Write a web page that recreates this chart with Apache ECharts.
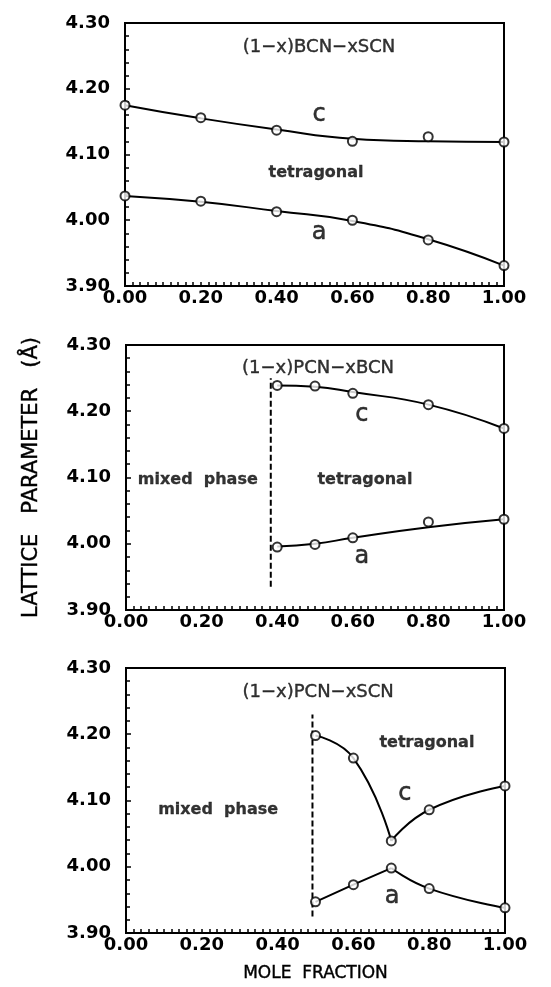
<!DOCTYPE html>
<html>
<head>
<meta charset="utf-8">
<script src="https://cdn.jsdelivr.net/npm/echarts@6/dist/echarts.min.js"></script>
<style>
  html, body { margin: 0; padding: 0; background: #fff; }
  #chartBox { width: 551px; height: 987px; }
</style>
</head>
<body>
<div id="chartBox"></div>
<script>
// (1-x)BCN-xSCN
const xBS = [0, 0.2, 0.4, 0.6, 0.8, 1.0]
const bsC = [4.175, 4.156, 4.137, 4.120, 4.127, 4.119]
const bsA = [4.037, 4.029, 4.013, 4.000, 3.970, 3.931]
const bsCFit = [4.175, 4.155, 4.138, 4.124, 4.120, 4.119]
const bsAFit = [4.037, 4.028, 4.014, 3.999, 3.971, 3.931]

// (1-x)PCN-xBCN
const xPB = [0.4, 0.5, 0.6, 0.8, 1.0]
const pbC = [4.239, 4.238, 4.227, 4.210, 4.174]
const pbA = [3.995, 3.999, 4.009, 4.033, 4.037]
const pbCFit = [4.239, 4.237, 4.229, 4.210, 4.174]
const pbAFit = [3.996, 4.000, 4.009, 4.025, 4.037]
const pbBoundary = [[0.383, 3.935], [0.383, 4.250]]

// (1-x)PCN-xSCN
const xPS = [0.5, 0.6, 0.7, 0.8, 1.0]
const psC = [4.198, 4.164, 4.039, 4.086, 4.122]
const psA = [3.947, 3.973, 3.998, 3.967, 3.938]
const psBoundary = [[0.492, 3.925], [0.492, 4.230]]

const xTicks = [0, 0.2, 0.4, 0.6, 0.8, 1.0]
const yTicks = [3.9, 4.0, 4.1, 4.2, 4.3]

const FONT = 'DejaVu Sans'
const pair = (xs, ys) => xs.map((x, i) => [x, ys[i]])

const grids = [
  { left: 125, top: 23, width: 379, height: 263 },
  { left: 126, top: 345, width: 378, height: 265 },
  { left: 126, top: 668, width: 379, height: 265 }
]

function makeX(i) {
  return {
    type: 'value', gridIndex: i,
    min: xTicks[0], max: xTicks[xTicks.length - 1], interval: 0.2,
    axisLine: { show: true, lineStyle: { color: '#000', width: 2 } },
    axisTick: { inside: true, length: 4, lineStyle: { color: '#000', width: 1.5 } },
    minorTick: { show: true, splitNumber: 10, length: 4, lineStyle: { color: '#000', width: 1.5 } },
    splitLine: { show: false },
    axisLabel: {
      color: '#000', fontFamily: FONT, fontWeight: 'bold', fontSize: 18, margin: 3,
      formatter: v => v.toFixed(2)
    },
    name: i === 2 ? 'MOLE  FRACTION' : '',
    nameLocation: 'middle', nameGap: 32,
    nameTextStyle: { color: '#000', fontFamily: FONT, fontSize: 17, textBorderColor: '#000', textBorderWidth: 0.4 }
  }
}

function makeY(i) {
  return {
    type: 'value', gridIndex: i,
    min: yTicks[0], max: yTicks[yTicks.length - 1], interval: 0.1,
    axisLine: { show: true, lineStyle: { color: '#000', width: 2 } },
    axisTick: { inside: true, length: 5, lineStyle: { color: '#000', width: 1.5 } },
    minorTick: { show: true, splitNumber: 5, length: 4, lineStyle: { color: '#000', width: 1.5 } },
    splitLine: { show: false },
    axisLabel: {
      color: '#000', fontFamily: FONT, fontWeight: 'bold', fontSize: 18, margin: 15,
      formatter: v => v.toFixed(2)
    },
    name: i === 1 ? 'LATTICE   PARAMETER   (Å)' : '',
    nameLocation: 'middle', nameGap: 84,
    nameTextStyle: { color: '#000', fontFamily: FONT, fontSize: 21, textBorderColor: '#000', textBorderWidth: 0.4 }
  }
}

function fit(i, data, smooth) {
  return {
    type: 'line', xAxisIndex: i, yAxisIndex: i, data: data,
    smooth: smooth, showSymbol: false, silent: true, z: 2,
    lineStyle: { color: '#000', width: 2 }
  }
}

function marks(i, data) {
  return {
    type: 'scatter', xAxisIndex: i, yAxisIndex: i, data: data,
    symbol: 'circle', symbolSize: 9, silent: true, z: 3,
    itemStyle: { color: '#fff', borderColor: '#000', borderWidth: 2 }
  }
}

function boundary(i, data) {
  return {
    type: 'line', xAxisIndex: i, yAxisIndex: i, data: data,
    showSymbol: false, silent: true, z: 2,
    lineStyle: { color: '#000', width: 2, type: [6, 3] }
  }
}

const titleStyle = { fontFamily: FONT, fontSize: 18, color: '#000', textBorderColor: '#000', textBorderWidth: 0.4 }
const regionStyle = { fontFamily: FONT, fontSize: 16, fontWeight: 'bold', color: '#000', textBorderColor: '#000', textBorderWidth: 0.3 }
const letterStyle = { fontFamily: FONT, fontSize: 24, color: '#000', textBorderColor: '#000', textBorderWidth: 0.5 }

function notes(i, items) {
  return {
    type: 'scatter', xAxisIndex: i, yAxisIndex: i, silent: true, z: 4,
    symbolSize: 1, itemStyle: { color: 'transparent' },
    data: items.map(n => ({
      value: [n[0], n[1]],
      label: Object.assign({ show: true, position: 'inside', formatter: n[2] }, n[3])
    }))
  }
}

const chart = echarts.init(document.getElementById('chartBox'), null, { renderer: 'canvas' })
chart.setOption({
  animation: false,
  backgroundColor: '#fff',
  grid: grids.map(g => Object.assign({ show: true, borderColor: '#000', borderWidth: 2, backgroundColor: 'transparent' }, g)),
  xAxis: [0, 1, 2].map(makeX),
  yAxis: [0, 1, 2].map(makeY),
  series: [
    fit(0, pair(xBS, bsCFit), true),
    fit(0, pair(xBS, bsAFit), true),
    marks(0, pair(xBS, bsC)),
    marks(0, pair(xBS, bsA)),
    notes(0, [
      [0.512, 4.263, '(1−x)BCN−xSCN', titleStyle],
      [0.512, 4.160, 'c', letterStyle],
      [0.504, 4.072, 'tetragonal', regionStyle],
      [0.512, 3.981, 'a', letterStyle]
    ]),

    fit(1, pair(xPB, pbCFit), true),
    fit(1, pair(xPB, pbAFit), true),
    marks(1, pair(xPB, pbC)),
    marks(1, pair(xPB, pbA)),
    boundary(1, pbBoundary),
    notes(1, [
      [0.508, 4.265, '(1−x)PCN−xBCN', titleStyle],
      [0.624, 4.194, 'c', letterStyle],
      [0.624, 3.980, 'a', letterStyle],
      [0.190, 4.096, 'mixed  phase', regionStyle],
      [0.632, 4.096, 'tetragonal', regionStyle]
    ]),

    fit(2, pair(xPS.slice(0, 3), psC.slice(0, 3)), 0.5),
    fit(2, pair(xPS.slice(2), psC.slice(2)), 0.5),
    fit(2, pair(xPS.slice(0, 3), psA.slice(0, 3)), false),
    fit(2, pair(xPS.slice(2), psA.slice(2)), 0.5),
    marks(2, pair(xPS, psC)),
    marks(2, pair(xPS, psA)),
    boundary(2, psBoundary),
    notes(2, [
      [0.507, 4.264, '(1−x)PCN−xSCN', titleStyle],
      [0.794, 4.187, 'tetragonal', regionStyle],
      [0.736, 4.110, 'c', letterStyle],
      [0.243, 4.086, 'mixed  phase', regionStyle],
      [0.702, 3.954, 'a', letterStyle]
    ])
  ]
})
window.addEventListener('resize', () => {
  chart.resize()
})
</script>
</body>
</html>
